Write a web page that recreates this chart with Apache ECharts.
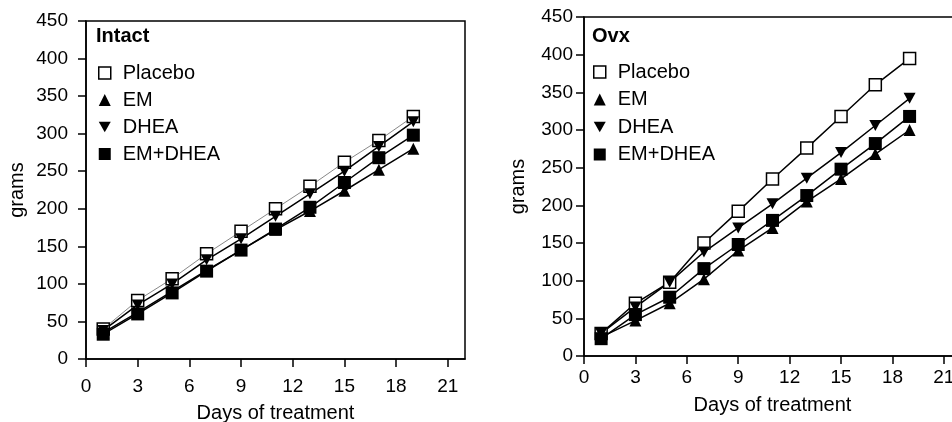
<!DOCTYPE html>
<html><head><meta charset="utf-8">
<script src="https://cdn.jsdelivr.net/npm/echarts@6/dist/echarts.min.js"></script>
<style>html,body{margin:0;padding:0;background:#fff}#c{width:952px;height:422px}</style>
</head><body><div id="c"></div>
<script>
const days = [1, 3, 5, 7, 9, 11, 13, 15, 17, 19];
const xTicks = [0, 3, 6, 9, 12, 15, 18, 21];
const yTicks = [0, 50, 100, 150, 200, 250, 300, 350, 400, 450];
const seriesNames = ['Placebo', 'EM', 'DHEA', 'EM+DHEA'];
const panelTitles = ['Intact', 'Ovx'];

const intactPlacebo = [40, 78, 107, 140, 170, 200, 230, 262, 291, 323];
const intactEM      = [35, 62, 90, 118, 145, 172, 197, 224, 252, 280];
const intactDHEA    = [38, 72, 100, 132, 160, 190, 220, 250, 283, 316];
const intactEMDHEA  = [33, 60, 88, 117, 145, 173, 202, 235, 268, 298];

const ovxPlacebo = [30, 70, 98, 150, 192, 235, 276, 318, 360, 395];
const ovxEM      = [25, 47, 70, 102, 140, 170, 205, 235, 268, 300];
const ovxDHEA    = [30, 65, 98, 138, 170, 202, 236, 270, 306, 342];
const ovxEMDHEA  = [23, 55, 78, 116, 148, 180, 213, 248, 282, 318];

const FONT = "'Liberation Sans', Arial, sans-serif";
const downTri = 'path://M0,0L10,0L5,8.66Z';
const pts = arr => days.map((d, i) => [d, arr[i]]);

const symbols = ['rect', 'triangle', downTri, 'rect'];
const fills = ['#fff', '#000', '#000', '#000'];
const sizes = [12, 12, 12, 13];

function makeSeries(panel, arrays) {
  return arrays.map((arr, k) => ({
    name: seriesNames[k],
    type: 'line',
    xAxisIndex: panel, yAxisIndex: panel,
    data: pts(arr),
    symbol: symbols[k],
    symbolSize: k === 2 ? [12, 11] : sizes[k],
    showAllSymbol: true,
    z: k === 0 ? 5 : 3 + k,
    lineStyle: {color: (panel === 0 && k === 0) ? '#888' : '#000', width: (panel === 0 && k === 0) ? 1 : 1.5},
    itemStyle: {color: fills[k], borderColor: '#000', borderWidth: k === 0 ? 1.5 : 0, opacity: 1},
    emphasis: {disabled: true},
    animation: false
  }));
}

function legendData() {
  return seriesNames.map((n, k) => ({
    name: n,
    icon: symbols[k],
    itemStyle: {color: fills[k], borderColor: '#000', borderWidth: k === 0 ? 1.5 : 0}
  }));
}

const xCfg = [{labelMargin: 18, nameGap: 44}, {labelMargin: 12, nameGap: 39}];
const yCfg = [{labelMargin: 18, nameGap: 59}, {labelMargin: 11, nameGap: 56}];

function xAxis(gi) {
  return {
    type: 'value', gridIndex: gi, min: 0, max: 22,
    name: 'Days of treatment', nameLocation: 'middle', nameGap: xCfg[gi].nameGap,
    nameTextStyle: {fontFamily: FONT, fontSize: 20, color: '#000'},
    axisLine: {lineStyle: {color: '#000', width: 1.5}},
    axisTick: {show: true, length: 8, customValues: xTicks, lineStyle: {color: '#000', width: 1.5}},
    axisLabel: {customValues: xTicks, margin: xCfg[gi].labelMargin, fontFamily: FONT, fontSize: 19, color: '#000'},
    splitLine: {show: false}
  };
}
function yAxis(gi) {
  return {
    type: 'value', gridIndex: gi, min: 0, max: 450, interval: 50,
    name: 'grams', nameLocation: 'middle', nameGap: yCfg[gi].nameGap,
    nameTextStyle: {fontFamily: FONT, fontSize: 20, color: '#000'},
    axisLine: {show: true, lineStyle: {color: '#000', width: 1.5}},
    axisTick: {show: true, length: 8, customValues: yTicks, lineStyle: {color: '#000', width: 1.5}},
    axisLabel: {customValues: yTicks, margin: yCfg[gi].labelMargin, fontFamily: FONT, fontSize: 19, color: '#000'},
    splitLine: {show: false}
  };
}

const chart = echarts.init(document.getElementById('c'), null, {renderer: 'canvas'});
chart.setOption({
  animation: false,
  backgroundColor: '#fff',
  title: [
    {text: panelTitles[0], left: 96, top: 26, padding: 0, textStyle: {fontFamily: FONT, fontSize: 20, fontWeight: 'bold', color: '#000'}},
    {text: panelTitles[1], left: 592, top: 26, padding: 0, textStyle: {fontFamily: FONT, fontSize: 20, fontWeight: 'bold', color: '#000'}}
  ],
  grid: [
    {left: 86, right: 487, top: 21, bottom: 63, outerBoundsMode: 'none', containLabel: false, show: true, borderColor: '#000', borderWidth: 1.5, backgroundColor: 'transparent'},
    {left: 584, right: -9, top: 17, bottom: 66, outerBoundsMode: 'none', containLabel: false, show: true, borderColor: '#000', borderWidth: 1.5, backgroundColor: 'transparent'}
  ],
  xAxis: [xAxis(0), xAxis(1)],
  yAxis: [yAxis(0), yAxis(1)],
  legend: [
    {data: legendData(), orient: 'vertical', left: 98, top: 63, itemWidth: 12, itemHeight: 12, itemGap: 7, padding: 0,
     selectedMode: false, textStyle: {fontFamily: FONT, fontSize: 20, color: '#000', padding: [0, 0, 0, 7]}},
    {data: legendData(), orient: 'vertical', left: 593, top: 62, itemWidth: 12, itemHeight: 12, itemGap: 7.5, padding: 0,
     selectedMode: false, textStyle: {fontFamily: FONT, fontSize: 20, color: '#000', padding: [0, 0, 0, 7]}}
  ],
  series: [
    ...makeSeries(0, [intactPlacebo, intactEM, intactDHEA, intactEMDHEA]),
    ...makeSeries(1, [ovxPlacebo, ovxEM, ovxDHEA, ovxEMDHEA])
  ]
});
</script></body></html>
